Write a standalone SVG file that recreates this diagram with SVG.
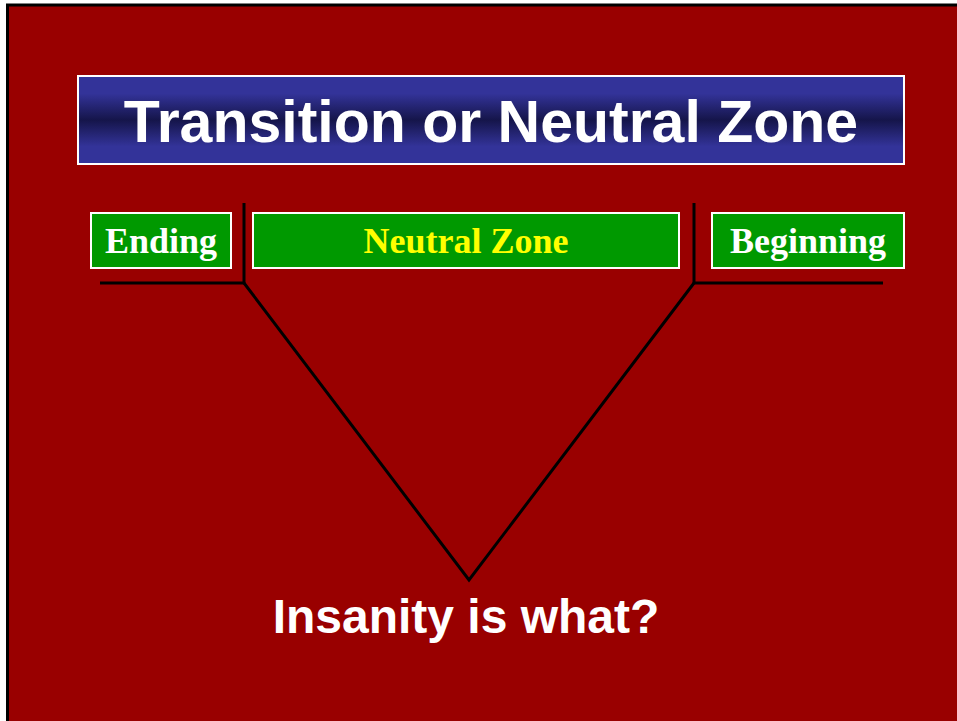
<svg xmlns="http://www.w3.org/2000/svg" width="957" height="721" viewBox="0 0 957 721">
<defs>
<linearGradient id="tg" x1="0" y1="0" x2="0" y2="1">
<stop offset="0" stop-color="#333399"/>
<stop offset="0.2" stop-color="#333399"/>
<stop offset="0.5" stop-color="#15154a"/>
<stop offset="0.8" stop-color="#333399"/>
<stop offset="1" stop-color="#333399"/>
</linearGradient>
<style>
.box{fill:#009900;stroke:#ffffff;stroke-width:2}
.lbl{font-family:"Liberation Serif","Times New Roman",serif;font-weight:bold;font-size:36px;text-anchor:middle}
.ln{stroke:#000000;stroke-width:3;fill:none}
</style>
</defs>
<rect x="0" y="0" width="957" height="721" fill="#ffffff"/>
<rect x="7.5" y="5" width="960" height="730" fill="#990000" stroke="#000000" stroke-width="3"/>
<g id="title">
<rect x="78" y="76" width="826" height="88" fill="url(#tg)" stroke="#ffffff" stroke-width="2"/>
<text x="491" y="142" font-family="'Liberation Sans',Arial,sans-serif" font-weight="bold" font-size="59" fill="#ffffff" text-anchor="middle">Transition or Neutral Zone</text>
</g>
<g id="ending">
<rect class="box" x="91" y="213" width="140" height="55"/>
<text class="lbl" x="161" y="253" fill="#ffffff">Ending</text>
</g>
<g id="neutral">
<rect class="box" x="253" y="213" width="426" height="55"/>
<text class="lbl" x="466" y="253" fill="#ffff00">Neutral Zone</text>
</g>
<g id="beginning">
<rect class="box" x="712" y="213" width="192" height="55"/>
<text class="lbl" x="808" y="253" fill="#ffffff">Beginning</text>
</g>
<g id="connectors">
<polyline class="ln" points="100,283 244,283 244,203"/>
<polyline class="ln" points="883,283 694,283 694,203"/>
<polyline class="ln" points="244,283 469,580 694,283"/>
</g>
<g id="caption">
<text x="466" y="633" font-family="'Liberation Sans',Arial,sans-serif" font-weight="bold" font-size="48" fill="#ffffff" text-anchor="middle">Insanity is what?</text>
</g>
</svg>
